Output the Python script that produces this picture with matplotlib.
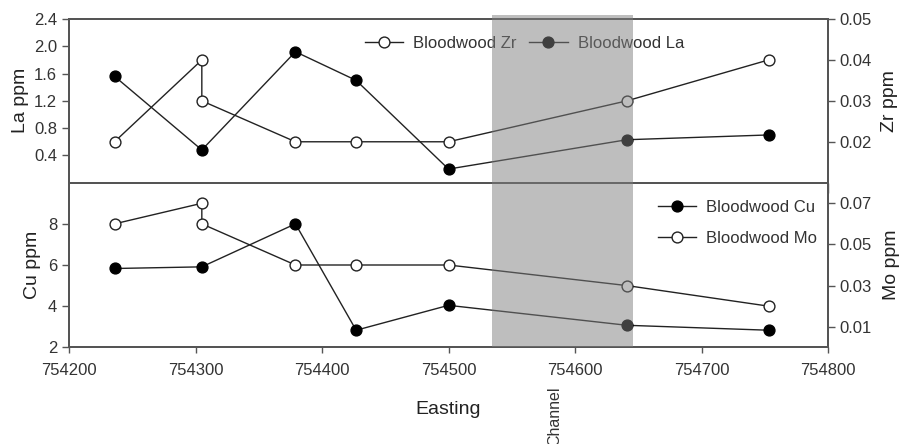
import matplotlib
matplotlib.use("Agg")
import matplotlib.pyplot as plt
import matplotlib.transforms as mtransforms
from matplotlib.patches import Rectangle

plt.rcParams['font.family'] = ['Liberation Sans', 'DejaVu Sans']

# ---- data ----
easting = [754236, 754305, 754379, 754427, 754500, 754641, 754753]
la_ppm = [1.56, 0.48, 1.92, 1.50, 0.20, 0.63, 0.70]
cu_ppm = [5.83, 5.91, 8.0, 2.83, 4.04, 3.07, 2.83]

easting_dup = [754236, 754305, 754305, 754379, 754427, 754500, 754641, 754753]
zr_ppm = [0.02, 0.04, 0.03, 0.02, 0.02, 0.02, 0.03, 0.04]
mo_ppm = [0.06, 0.07, 0.06, 0.04, 0.04, 0.04, 0.03, 0.02]

channel_span = (754534, 754646)

la_ticks = [0.4, 0.8, 1.2, 1.6, 2.0, 2.4]
zr_ticks = [0.02, 0.03, 0.04, 0.05]
cu_ticks = [2, 4, 6, 8]
mo_ticks = [0.01, 0.03, 0.05, 0.07]
x_ticks = [754200, 754300, 754400, 754500, 754600, 754700, 754800]

W, H = 899, 444
fig = plt.figure(figsize=(W / 100, H / 100), dpi=100)

left, right = 69 / W, 828 / W
top_top, mid, bot_bot = 1 - 19 / H, 1 - 182.7 / H, 1 - 347.3 / H

ax_top = fig.add_axes([left, mid, right - left, top_top - mid])
ax_bot = fig.add_axes([left, bot_bot, right - left, mid - bot_bot])
ax_top2 = ax_top.twinx()
ax_bot2 = ax_bot.twinx()

spine_col = '#555555'
line_col = '#222222'
ms = 7.8

for a in (ax_top, ax_bot, ax_top2, ax_bot2):
    for s in a.spines.values():
        s.set_color(spine_col)
        s.set_linewidth(1.4)
    a.tick_params(colors=spine_col, labelcolor='#333333', labelsize=12, width=1.0, length=5)
    a.set_xlim(754200, 754800)

# top panel
l_zr, = ax_top2.plot(easting_dup, zr_ppm, '-o', color=line_col, lw=1.0, ms=ms,
                     mfc='white', mec=line_col, mew=1.0, label='Bloodwood Zr', zorder=3)
l_la, = ax_top2.plot([], [], '-o', color=line_col, lw=1.0, ms=ms, mfc='black',
                     mec='black', label='Bloodwood La')
ax_top.plot(easting, la_ppm, '-o', color=line_col, lw=1.0, ms=ms, mfc='black',
            mec='black', zorder=3)
ax_top.set_ylim(0, 2.4)
ax_top.set_yticks(la_ticks)
ax_top.set_yticklabels([f"{v:.1f}" for v in la_ticks])
ax_top2.set_ylim(0.01, 0.05)
ax_top2.set_yticks(zr_ticks)
ax_top2.set_yticklabels([f"{v:.2f}" for v in zr_ticks])
ax_top.set_xticks(x_ticks)
ax_top.tick_params(axis='x', labelbottom=False, length=7)
ax_top2.tick_params(axis='x', labelbottom=False, bottom=False)
ax_top.set_ylabel('La ppm', fontsize=14, color='#222222', labelpad=4)
ax_top2.set_ylabel('Zr ppm', fontsize=14, color='#222222', labelpad=6)

# bottom panel
ax_bot.plot(easting, cu_ppm, '-o', color=line_col, lw=1.0, ms=ms, mfc='black',
            mec='black', zorder=3)
l_cu, = ax_bot2.plot([], [], '-o', color=line_col, lw=1.0, ms=ms, mfc='black',
                     mec='black', label='Bloodwood Cu')
l_mo, = ax_bot2.plot(easting_dup, mo_ppm, '-o', color=line_col, lw=1.0, ms=ms,
                     mfc='white', mec=line_col, mew=1.0, label='Bloodwood Mo', zorder=3)
ax_bot.set_ylim(2, 10)
ax_bot.set_yticks(cu_ticks)
ax_bot2.set_ylim(0.0, 0.08)
ax_bot2.set_yticks(mo_ticks)
ax_bot2.set_yticklabels([f"{v:.2f}" for v in mo_ticks])
ax_bot.set_xticks(x_ticks)
ax_bot.set_xticklabels([str(v) for v in x_ticks])
ax_bot.tick_params(axis='x', length=4, pad=7)
ax_bot.set_xlabel('Easting', fontsize=14, color='#222222', labelpad=17)
ax_bot.set_ylabel('Cu ppm', fontsize=14, color='#222222', labelpad=5)
ax_bot2.set_ylabel('Mo ppm', fontsize=14, color='#222222', labelpad=8)

# legends
leg_kw = dict(frameon=False, fontsize=12, handlelength=2.3, handletextpad=0.6,
              borderpad=0, borderaxespad=0)
leg1 = ax_top2.legend(handles=[l_zr, l_la], loc='center left', ncol=2,
                      columnspacing=0.75,
                      bbox_to_anchor=(365 / W, 1 - 43 / H),
                      bbox_transform=fig.transFigure, **leg_kw)
for t in leg1.get_texts():
    t.set_color('#333333')
leg2 = ax_bot2.legend(handles=[l_cu, l_mo], loc='center left', labelspacing=0.95,
                      bbox_to_anchor=(658 / W, 1 - 222.8 / H),
                      bbox_transform=fig.transFigure, **leg_kw)
for t in leg2.get_texts():
    t.set_color('#333333')

# channel shading (overlay)
trans = mtransforms.blended_transform_factory(ax_bot.transData, fig.transFigure)
rect = Rectangle((channel_span[0], bot_bot), channel_span[1] - channel_span[0],
                 (1 - 15 / H) - bot_bot, transform=trans, facecolor='#7e7e7e',
                 alpha=0.5, edgecolor='none', zorder=10)
fig.patches.append(rect)

fig.text(555 / W, 1 - 386 / H, 'Channel', rotation=90, ha='center', va='top',
         fontsize=11.5, color='#333333')

fig.savefig('out.png', dpi=100)
